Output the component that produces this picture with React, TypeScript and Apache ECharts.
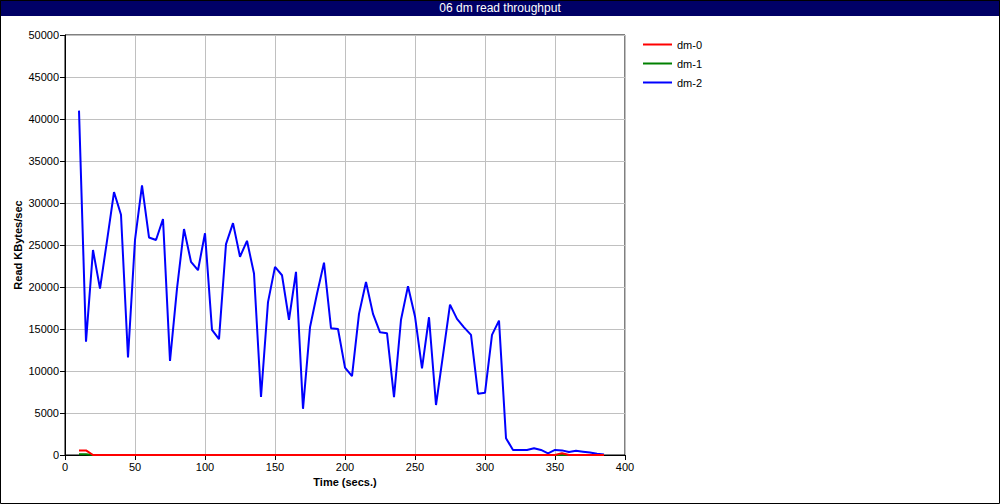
import React, { useEffect, useRef } from "react";
import * as echarts from "echarts";

const times = [
  10, 15, 20, 25, 30, 35, 40, 45, 50, 55,
  60, 65, 70, 75, 80, 85, 90, 95, 100, 105,
  110, 115, 120, 125, 130, 135, 140, 145, 150, 155,
  160, 165, 170, 175, 180, 185, 190, 195, 200, 205,
  210, 215, 220, 225, 230, 235, 240, 245, 250, 255,
  260, 265, 270, 275, 280, 285, 290, 295, 300, 305,
  310, 315, 320, 325, 330, 335, 340, 345, 350, 355,
  360, 365, 370, 375, 380, 385,
];

const dm0 = [
  550, 550, 0, 0, 0, 0, 0, 0, 0, 0,
  0, 0, 0, 0, 0, 0, 0, 0, 0, 0,
  0, 0, 0, 0, 0, 0, 0, 0, 0, 0,
  0, 0, 0, 0, 0, 0, 0, 0, 0, 0,
  0, 0, 0, 0, 0, 0, 0, 0, 0, 0,
  0, 0, 0, 0, 0, 0, 0, 0, 0, 0,
  0, 0, 0, 0, 0, 0, 0, 0, 0, 200,
  0, 0, 0, 0, 0, 0,
];

const dm1 = [
  100, 100, 0, 0, 0, 0, 0, 0, 0, 0,
  0, 0, 0, 0, 0, 0, 0, 0, 0, 0,
  0, 0, 0, 0, 0, 0, 0, 0, 0, 0,
  0, 0, 0, 0, 0, 0, 0, 0, 0, 0,
  0, 0, 0, 0, 0, 0, 0, 0, 0, 0,
  0, 0, 0, 0, 0, 0, 0, 0, 0, 0,
  0, 0, 0, 0, 0, 0, 0, 0, 0, 0,
  0, 0, 0, 0, 0, 0,
];

const dm2 = [
  41000, 13500, 24400, 19800, 25500, 31300, 28600, 11600, 25600, 32100,
  25900, 25600, 28100, 11200, 19800, 26900, 23000, 22000, 26400, 14900,
  13800, 25100, 27600, 23600, 25500, 21600, 6900, 18200, 22400, 21400,
  16100, 21800, 5500, 15200, 19200, 22900, 15100, 15000, 10400, 9400,
  16800, 20600, 16800, 14600, 14500, 6900, 16100, 20100, 16500, 10300,
  16400, 5950, 11900, 17900, 16200, 15200, 14300, 7300, 7400, 14300,
  16000, 2000, 600, 600, 600, 800, 600, 200, 600, 550,
  350, 500, 400, 300, 150, 50,
];

const seriesNames = ["dm-0", "dm-1", "dm-2"];
const seriesColors = ["#ff0000", "#008000", "#0000ff"];
const titleText = "06 dm read throughput";
const xName = "Time (secs.)";
const yName = "Read KBytes/sec";

const FONT = "'Liberation Sans', Arial, sans-serif";

export default function App() {
  const ref = useRef<HTMLDivElement>(null);
  useEffect(() => {
    if (!ref.current) return;
    const chart = echarts.init(ref.current, undefined, { renderer: "svg" });
    const values = [dm0, dm1, dm2];
    const pairs = (arr: number[]) => times.map((t, i) => [t, arr[i]]);
    const series = [2, 1, 0].map((k) => ({
      name: seriesNames[k],
      type: "line",
      data: pairs(values[k]),
      showSymbol: false,
      symbol: "none",
      lineStyle: { color: seriesColors[k], width: 2 },
      itemStyle: { color: seriesColors[k] },
      z: 3 + (2 - k),
    }));
    chart.setOption({
      animation: false,
      backgroundColor: "#ffffff",
      textStyle: { fontFamily: FONT },
      graphic: [
        {
          type: "rect",
          shape: { x: 0, y: 0, width: 1000, height: 16 },
          style: { fill: "#000066" },
          z: 10,
        },
        {
          type: "text",
          x: 500,
          y: 8,
          style: {
            text: titleText,
            fill: "#ffffff",
            font: `12px ${FONT}`,
            textAlign: "center",
            textVerticalAlign: "middle",
          },
          z: 11,
        },
        {
          type: "rect",
          shape: { x: 0.5, y: 0.5, width: 999, height: 503 },
          style: { fill: "none", stroke: "#000000", lineWidth: 1 },
          z: 12,
        },
      ],
      legend: {
        data: seriesNames,
        orient: "vertical",
        left: 638,
        top: 34,
        icon: "rect",
        itemWidth: 29,
        itemHeight: 2,
        itemGap: 8,
        textStyle: { fontSize: 11, color: "#000", fontFamily: FONT },
      },
      grid: {
        left: 65,
        right: 375,
        top: 35,
        bottom: 49,
        show: true,
        borderColor: "#000",
        borderWidth: 1,
        containLabel: false,
        outerBoundsMode: "none",
      },
      xAxis: {
        type: "value",
        min: 0,
        max: 400,
        interval: 50,
        name: xName,
        nameLocation: "middle",
        nameGap: 21,
        nameMoveOverlap: false,
        nameTextStyle: { fontSize: 11, fontWeight: "bold", color: "#000", fontFamily: FONT },
        axisLine: { lineStyle: { color: "#000", width: 1 } },
        axisTick: { show: true, length: 5, lineStyle: { color: "#000" } },
        axisLabel: { fontSize: 11, color: "#000", margin: 6, fontFamily: FONT, formatter: (v: number) => String(v) },
        splitLine: { show: true, lineStyle: { color: "#c0c0c0", width: 1 } },
      },
      yAxis: {
        type: "value",
        min: 0,
        max: 50000,
        interval: 5000,
        name: yName,
        nameLocation: "middle",
        nameGap: 42,
        nameMoveOverlap: false,
        nameRotate: 90,
        nameTextStyle: { fontSize: 11, fontWeight: "bold", color: "#000", fontFamily: FONT },
        axisLine: { show: true, lineStyle: { color: "#000", width: 1 } },
        axisTick: { show: true, length: 5, lineStyle: { color: "#000" } },
        axisLabel: { fontSize: 11, color: "#000", margin: 6, fontFamily: FONT, formatter: (v: number) => String(v) },
        splitLine: { show: true, lineStyle: { color: "#c0c0c0", width: 1 } },
      },
      series,
    });
    return () => chart.dispose();
  }, []);
  return (
    <div
      ref={ref}
      style={{ position: "fixed", left: 0, top: 0, width: 1000, height: 504 }}
    />
  );
}
